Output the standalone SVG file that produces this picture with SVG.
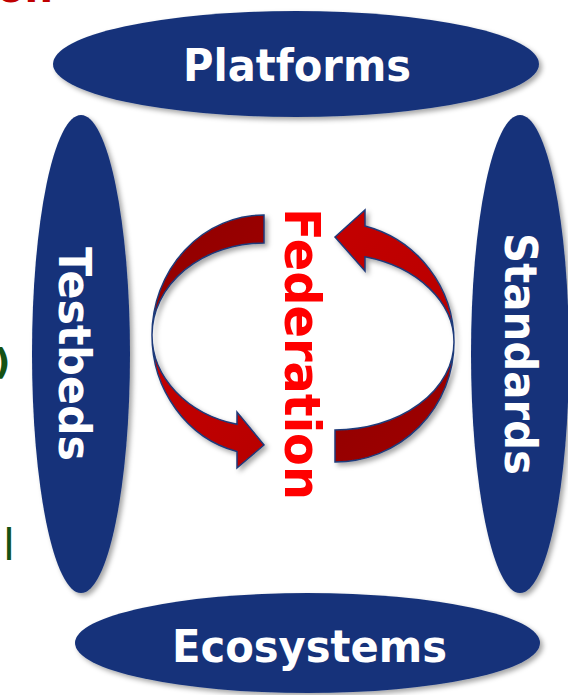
<svg xmlns="http://www.w3.org/2000/svg" width="568" height="695" viewBox="0 0 568 695">
  <defs>
    <filter id="shadow" x="-20%" y="-20%" width="140%" height="140%">
      <feDropShadow dx="3" dy="3" stdDeviation="2.5" flood-color="#000" flood-opacity="0.35"/>
    </filter>
    <linearGradient id="darkGrad" x1="0" y1="0" x2="1" y2="1">
      <stop offset="0" stop-color="#8f0000"/>
      <stop offset="1" stop-color="#a00000"/>
    </linearGradient>
    <linearGradient id="brightGrad" x1="0" y1="0" x2="1" y2="1">
      <stop offset="0" stop-color="#c40000"/>
      <stop offset="1" stop-color="#b80000"/>
    </linearGradient>
  </defs>
  <style>
    .node { fill: #15337a; filter: url(#shadow); }
    .label { font-family: "DejaVu Sans", Verdana, sans-serif; font-weight: bold; fill: #ffffff; font-size: 45px; text-anchor: middle; }
    .fed { font-family: "DejaVu Sans", Verdana, sans-serif; font-weight: bold; fill: #ff0000; font-size: 50px; text-anchor: middle; }
    .dark { fill: url(#darkGrad); stroke: #1f3a7a; stroke-width: 1.5; stroke-linejoin: miter; }
    .bright { fill: url(#brightGrad); stroke: #1f3a7a; stroke-width: 1.5; stroke-linejoin: miter; }
    .frag { font-family: "DejaVu Sans", Verdana, sans-serif; }
  </style>
  <rect width="568" height="695" fill="#ffffff"/>

  <!-- cut-off fragments at edges -->
  <text class="frag" x="53" y="1.5" font-size="40" font-weight="bold" fill="#c00000" text-anchor="end">on</text>
  <text class="frag" x="-6" y="374" font-size="36" font-weight="bold" fill="#145214">)</text>
  <text class="frag" x="3" y="560" font-size="43" fill="#145214">l</text>

  <g id="connectors">
    <g id="arrow-left" filter="url(#shadow)">
      <path class="dark" d="M264,215 A112,120 0 0 0 152,335 A112,92 0 0 1 264,243 Z"/>
      <path class="bright" d="M152,335 A112,120 0 0 0 237,451.5 L237,468 L264,445 L237,412 L237,424.3 A112,92 0 0 1 152,335 Z"/>
    </g>
    <g id="arrow-right" filter="url(#shadow)">
      <path class="dark" d="M335,462 A119,120 0 0 0 454,342 A119,88 0 0 1 335,430 Z"/>
      <path class="bright" d="M454,342 A119,120 0 0 0 365,225.9 L365,210 L335,237 L365,271 L365,256.8 A119,88 0 0 1 454,342 Z"/>
    </g>
  </g>

  <g id="platforms">
    <ellipse class="node" cx="296" cy="64" rx="243" ry="53"/>
    <text class="label" x="297" y="81" textLength="228" lengthAdjust="spacingAndGlyphs">Platforms</text>
  </g>

  <g id="testbeds">
    <ellipse class="node" cx="81" cy="354" rx="49" ry="239"/>
    <text class="label" transform="translate(59,354) rotate(90)" x="0" y="0" textLength="214" lengthAdjust="spacingAndGlyphs">Testbeds</text>
  </g>

  <g id="standards">
    <ellipse class="node" cx="520" cy="354" rx="49" ry="239"/>
    <text class="label" transform="translate(505,354) rotate(90)" x="0" y="0" textLength="242" lengthAdjust="spacingAndGlyphs">Standards</text>
  </g>

  <g id="ecosystems">
    <ellipse class="node" cx="307.5" cy="643" rx="232.5" ry="50"/>
    <text class="label" x="309.5" y="662" textLength="275" lengthAdjust="spacingAndGlyphs" style="font-size:44px">Ecosystems</text>
  </g>

  <g id="federation">
    <text class="fed" transform="translate(285,354) rotate(90)" x="0" y="0" textLength="292" lengthAdjust="spacingAndGlyphs">Federation</text>
  </g>
</svg>
